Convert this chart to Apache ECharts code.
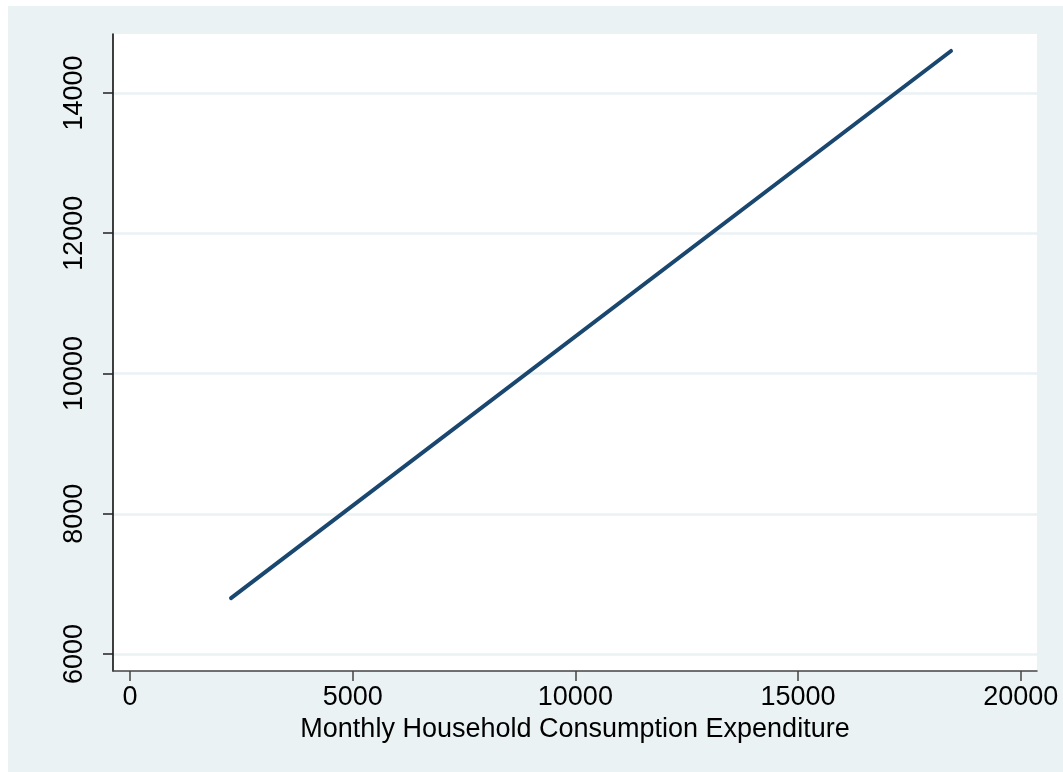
<!DOCTYPE html>
<html>
<head>
<meta charset="utf-8">
<script src="https://cdn.jsdelivr.net/npm/echarts@6/dist/echarts.min.js"></script>
<style>
  html, body { margin: 0; padding: 0; background: #ffffff; }
  #panel { position: absolute; left: 8px; top: 6px; width: 1055px; height: 766px; background: #eaf2f3; }
  #chart { width: 1055px; height: 766px; }
</style>
</head>
<body>
<div id="panel"><div id="chart"></div></div>
<script>
// Fitted line endpoints: household consumption expenditure vs. predicted value
const expenditure = [2268, 18435];
const fitted = [6798, 14599];

// Axis tick values
const xTicks = [0, 5000, 10000, 15000, 20000];
const yTicks = [6000, 8000, 10000, 12000, 14000];

const xTitle = 'Monthly Household Consumption Expenditure';

const points = expenditure.map((x, i) => [x, fitted[i]]);

const font = '"Liberation Sans", Arial, sans-serif';
const plain = v => String(v);
const chart = echarts.init(document.getElementById('chart'), null, { renderer: 'canvas' });

chart.setOption({
  animation: false,
  backgroundColor: 'transparent',
  grid: {
    left: 105, top: 28, right: 26, bottom: 101,
    show: true, backgroundColor: '#ffffff', borderWidth: 0
  },
  xAxis: {
    type: 'value',
    min: -382, max: 20366,
    name: xTitle,
    nameLocation: 'middle',
    nameGap: 45,
    nameTextStyle: { fontFamily: font, fontSize: 27, color: '#000' },
    axisLine: { show: true, onZero: false, lineStyle: { color: '#444', width: 1.5 } },
    axisTick: { show: true, length: 10, customValues: xTicks, lineStyle: { color: '#444', width: 1.5 } },
    axisLabel: { customValues: xTicks, formatter: plain, margin: 13, fontFamily: font, fontSize: 27, color: '#000' },
    splitLine: { show: false }
  },
  yAxis: {
    type: 'value',
    min: 5758, max: 14841,
    axisLine: { show: true, onZero: false, lineStyle: { color: '#000', width: 1.5 } },
    axisTick: { show: true, length: 10, customValues: yTicks, lineStyle: { color: '#222', width: 1.5 } },
    axisLabel: { customValues: yTicks, formatter: plain, rotate: 90, margin: 25, fontFamily: font, fontSize: 27, color: '#000' },
    splitLine: { show: true, lineStyle: { color: '#eaf2f3', width: 2.5 } }
  },
  series: [{
    type: 'line',
    data: points,
    showSymbol: false,
    symbol: 'none',
    lineStyle: { color: '#1a476f', width: 4, cap: 'round' }
  }]
});
</script>
</body>
</html>
